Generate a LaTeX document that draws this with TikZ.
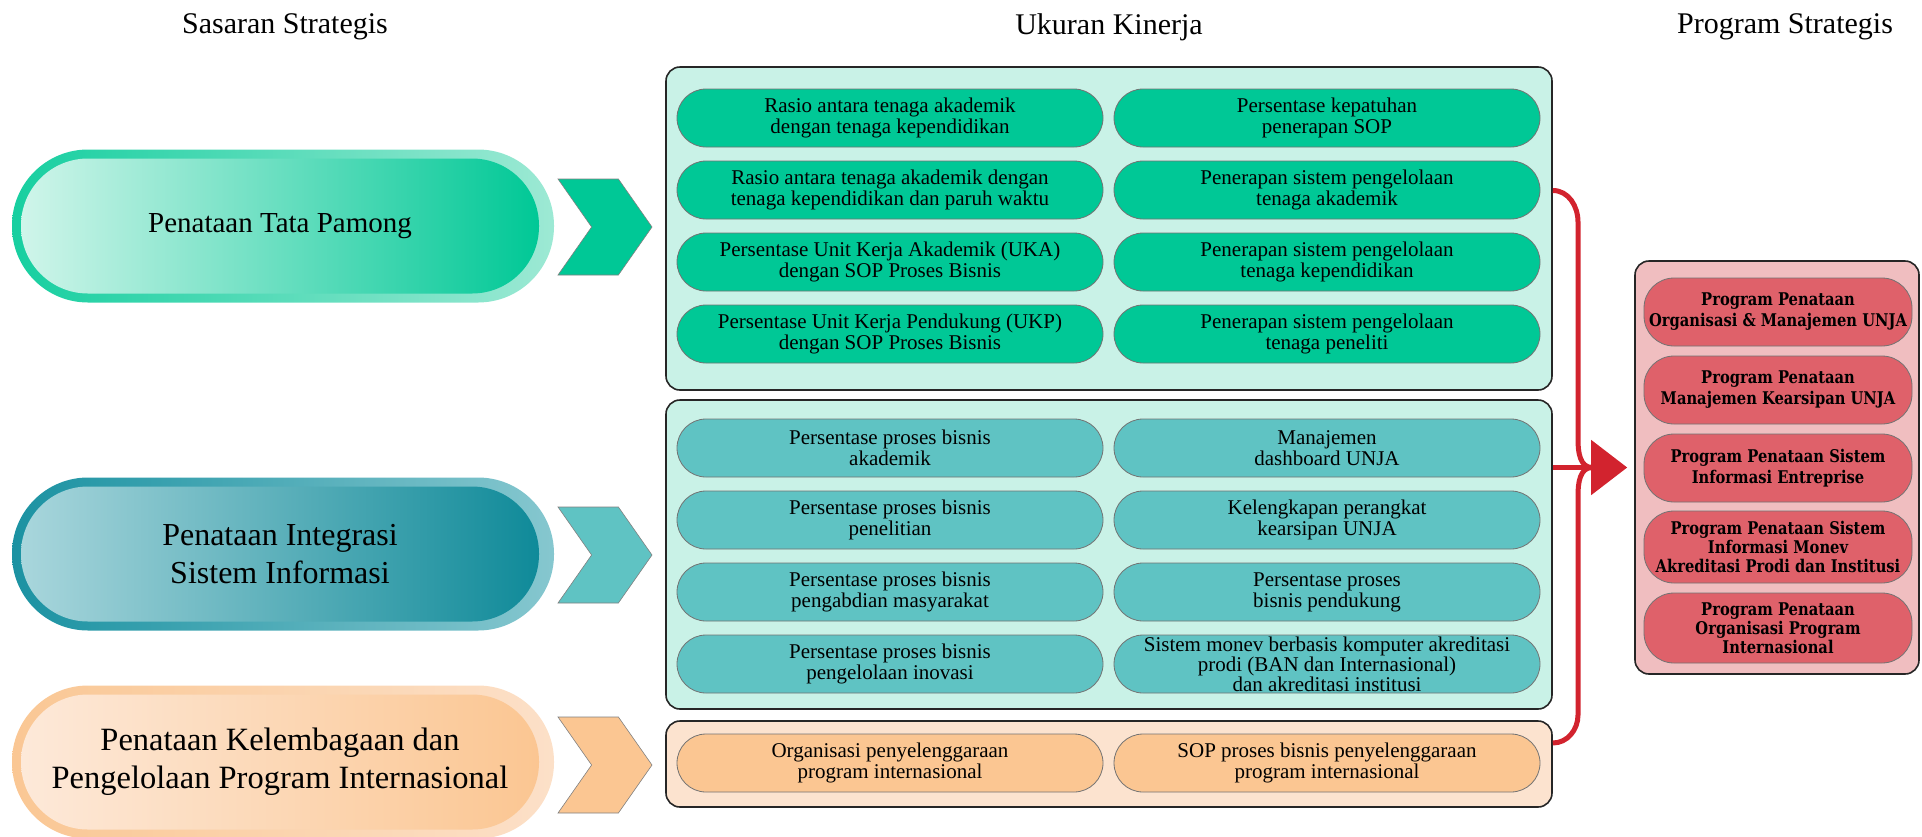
\documentclass[tikz,border=0pt]{standalone}
\usepackage{fontspec}
\setmainfont{Liberation Serif}
\newfontfamily\progfont[FakeStretch=0.84]{DejaVu Serif}
\usetikzlibrary{shapes.symbols,arrows.meta}
\definecolor{hijau}{HTML}{00C896}
\definecolor{hijaucincin}{HTML}{17CFA0}
\definecolor{hijaupucat}{HTML}{9DE9D4}
\definecolor{hijaumuda}{HTML}{D0F5EA}
\definecolor{tosca}{HTML}{5FC3C3}
\definecolor{toscagelap}{HTML}{0F8A99}
\definecolor{toscacincin}{HTML}{1B92A2}
\definecolor{toscapucat}{HTML}{86C7CF}
\definecolor{toscamuda}{HTML}{A9D6DC}
\definecolor{jingga}{HTML}{FBC692}
\definecolor{jinggacincin}{HTML}{FAC794}
\definecolor{jinggapucat}{HTML}{FCE0C8}
\definecolor{jinggamuda}{HTML}{FDE9D9}
\definecolor{mint}{HTML}{C9F2E7}
\definecolor{krem}{HTML}{FCE3CF}
\definecolor{merahmuda}{HTML}{F0BEC0}
\definecolor{merahpil}{HTML}{DF616A}
\definecolor{merah}{HTML}{D2232E}

\begin{document}
\begin{tikzpicture}[x=1pt,y=-1pt,
    judul/.style={font=\fontsize{30}{30}\selectfont},
    sasluar/.style={rounded corners=76pt, minimum width=542pt, minimum height=153pt, inner sep=0pt},
    sasdalam/.style={rounded corners=67pt, minimum width=518pt, minimum height=135pt, inner sep=0pt, align=center},
    chev/.style={signal, signal to=east, signal from=west, signal pointer angle=110, draw=black!50, line width=0.6pt, minimum width=94pt, minimum height=96pt, inner sep=0pt},
    panel/.style={draw=black!85, line width=1.6pt, rounded corners=14pt, inner sep=0pt, minimum width=886pt},
    kpi/.style={draw=black!55, line width=0.8pt, rounded corners=29pt, minimum width=426pt, minimum height=58pt, inner sep=0pt, align=center, font=\fontsize{21}{21}\selectfont},
    prog/.style={draw=black!55, line width=0.8pt, rounded corners=30pt, fill=merahpil, minimum width=268pt, minimum height=68pt, inner sep=0pt, align=center, font=\progfont\bfseries\fontsize{17.5}{21}\selectfont},
    garis/.style={draw=merah, line width=5pt}]
  \useasboundingbox (0,0) rectangle (1922,836);

  \node[judul] (hdsas) at (285,27) {Sasaran Strategis};
  \node[judul] (hduk) at (1109,27) {Ukuran Kinerja};
  \node[judul] (hdprog) at (1785,27) {Program Strategis};

  \node[sasluar, left color=hijaucincin, right color=hijaupucat] (sas1o) at (283,226) {};
  \node[sasdalam, left color=hijaumuda, right color=hijau, font=\fontsize{29}{35}\selectfont] (sas1) at (280,226) {Penataan Tata Pamong};
  \node[sasluar, left color=toscacincin, right color=toscapucat] (sas2o) at (283,554) {};
  \node[sasdalam, left color=toscamuda, right color=toscagelap, font=\fontsize{32}{38}\selectfont] (sas2) at (280,554) {Penataan Integrasi\\Sistem Informasi};
  \node[sasluar, left color=jinggacincin, right color=jinggapucat] (sas3o) at (283,762) {};
  \node[sasdalam, left color=jinggamuda, right color=jingga, font=\fontsize{32.5}{38}\selectfont] (sas3) at (280,762) {Penataan Kelembagaan dan\\Pengelolaan Program Internasional};

  \node[chev, fill=hijau] (chev1) at (605,227) {};
  \node[chev, fill=tosca] (chev2) at (605,555) {};
  \node[chev, fill=jingga] (chev3) at (605,765) {};

  \node[panel, fill=mint, minimum height=323pt] (uk1) at (1109,228.5) {};
  \node[panel, fill=mint, minimum height=309pt] (uk2) at (1109,554.5) {};
  \node[panel, fill=krem, minimum height=86pt] (uk3) at (1109,764) {};

  \node[kpi, fill=hijau] (k11) at (890,118) {Rasio antara tenaga akademik\\dengan tenaga kependidikan};
  \node[kpi, fill=hijau] (k21) at (890,190) {Rasio antara tenaga akademik dengan\\tenaga kependidikan dan paruh waktu};
  \node[kpi, fill=hijau] (k31) at (890,262) {Persentase Unit Kerja Akademik (UKA)\\dengan SOP Proses Bisnis};
  \node[kpi, fill=hijau] (k41) at (890,334) {Persentase Unit Kerja Pendukung (UKP)\\dengan SOP Proses Bisnis};
  \node[kpi, fill=hijau] (k12) at (1327,118) {Persentase kepatuhan\\penerapan SOP};
  \node[kpi, fill=hijau] (k22) at (1327,190) {Penerapan sistem pengelolaan\\tenaga akademik};
  \node[kpi, fill=hijau] (k32) at (1327,262) {Penerapan sistem pengelolaan\\tenaga kependidikan};
  \node[kpi, fill=hijau] (k42) at (1327,334) {Penerapan sistem pengelolaan\\tenaga peneliti};

  \node[kpi, fill=tosca] (k51) at (890,448) {Persentase proses bisnis\\akademik};
  \node[kpi, fill=tosca] (k61) at (890,520) {Persentase proses bisnis\\penelitian};
  \node[kpi, fill=tosca] (k71) at (890,592) {Persentase proses bisnis\\pengabdian masyarakat};
  \node[kpi, fill=tosca] (k81) at (890,664) {Persentase proses bisnis\\pengelolaan inovasi};
  \node[kpi, fill=tosca] (k52) at (1327,448) {Manajemen\\dashboard UNJA};
  \node[kpi, fill=tosca] (k62) at (1327,520) {Kelengkapan perangkat\\kearsipan UNJA};
  \node[kpi, fill=tosca] (k72) at (1327,592) {Persentase proses\\bisnis pendukung};
  \node[kpi, fill=tosca, font=\fontsize{21}{17}\selectfont] (k82) at (1327,664) {Sistem monev berbasis komputer akreditasi\\prodi (BAN dan Internasional)\\dan akreditasi institusi};

  \node[kpi, fill=jingga] (k91) at (890,763) {Organisasi penyelenggaraan\\program internasional};
  \node[kpi, fill=jingga] (k92) at (1327,763) {SOP proses bisnis penyelenggaraan\\program internasional};

  \node[panel, fill=merahmuda, minimum width=284pt, minimum height=413pt] (prg) at (1777,467.5) {};
  \node[prog] (p1) at (1778,312) {Program Penataan\\Organisasi \& Manajemen UNJA};
  \node[prog] (p2) at (1778,390) {Program Penataan\\Manajemen Kearsipan UNJA};
  \node[prog] (p3) at (1778,468) {Program Penataan Sistem\\Informasi Entreprise};
  \node[prog, minimum height=72pt, font=\progfont\bfseries\fontsize{17.5}{19}\selectfont] (p4) at (1778,547) {Program Penataan Sistem\\Informasi Monev\\Akreditasi Prodi dan Institusi};
  \node[prog, minimum height=70pt, font=\progfont\bfseries\fontsize{17.5}{19}\selectfont] (p5) at (1778,628) {Program Penataan\\Organisasi Program\\Internasional};

  \coordinate (brtop) at ([yshift=38pt]uk1.east);
  \coordinate (brbot) at ([yshift=21pt]uk3.east);
  \coordinate (brmid) at (1592,467.5);
  \draw[garis] (brtop) to[out=0,in=90] (1578,222) -- (1578,440) to[out=-90,in=180] (brmid)
    to[out=180,in=90] (1578,495) -- (1578,715) to[out=-90,in=0] (brbot);
  \draw[garis, -{Triangle[length=36pt,width=54pt]}, shorten >=7pt] (uk2.east |- prg.west) -- (prg.west);
\end{tikzpicture}
\end{document}
